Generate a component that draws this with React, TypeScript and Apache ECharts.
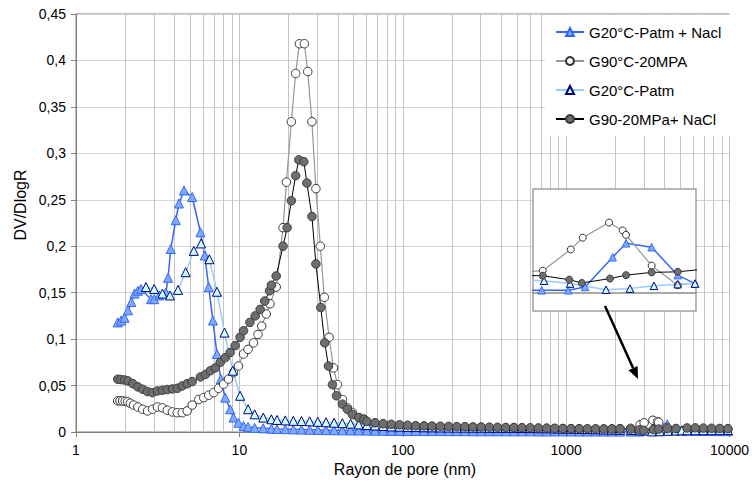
import React, { useEffect, useRef } from 'react';
import * as echarts from 'echarts';

// ---------- data (pore radius in nm, DV/DlogR) ----------
const seriesNames = ['G20°C-Patm + Nacl', 'G90°C-20MPA', 'G20°C-Patm', 'G90-20MPa+ NaCl'];
const xTickLabels = ['1', '10', '100', '1000', '10000'];

// shared log-spaced radii of the long tails
const tailR = [17.0, 19.1, 21.4, 24.0, 26.9, 30.2, 33.9, 38.0, 42.7, 47.9, 53.7, 60.3, 67.6, 75.9, 85.1, 95.5,
  107, 120, 135, 151, 170, 191, 214, 240, 269, 302, 339, 380, 427, 479, 537, 603, 676, 759, 851, 955,
  1072, 1202, 1349, 1514, 1698, 1905, 2138];
const endR = [5500, 6170, 6920, 7760, 8710, 9770];

// G20°C-Patm + Nacl
const s1HeadR = [1.80, 1.89, 1.98, 2.08, 2.18, 2.28, 2.39, 2.50, 2.88, 3.01, 3.23, 3.55, 3.66, 3.80, 4.08, 4.27, 4.58,
  5.14, 5.78, 6.14, 6.49, 6.89, 7.29, 7.70, 8.19, 8.78, 9.20, 9.86, 10.6, 11.3, 12.4, 14.0, 15.7];
const s1HeadV = [0.118, 0.120, 0.123, 0.131, 0.140, 0.149, 0.152, 0.154, 0.143, 0.143, 0.147, 0.150, 0.166, 0.197, 0.228,
  0.246, 0.260, 0.253, 0.215, 0.190, 0.156, 0.120, 0.084, 0.057, 0.037, 0.0245, 0.0155, 0.010, 0.0065, 0.0055, 0.0045,
  0.0040, 0.0035];
const s1TailV = [0.0032, 0.0030, 0.0028, 0.0026, 0.0024, 0.0022, 0.0020, 0.0019, 0.0018, 0.0017, 0.0016, 0.0015, 0.0014,
  0.0013, 0.0012, 0.0012, 0.0011, 0.0011, 0.0010, 0.0010, 0.0010, 0.0009, 0.0009, 0.0009, 0.0008, 0.0008, 0.0008, 0.0008,
  0.0007, 0.0007, 0.0007, 0.0007, 0.0006, 0.0006, 0.0006, 0.0006, 0.0006, 0.0005, 0.0005, 0.0005, 0.0005, 0.0005, 0.0005];
const s1InsetR = [2471, 2802, 3034, 3457, 3683, 4158, 4704, 5105];
const s1InsetV = [0.0005, 0.0005, 0.0011, 0.0064, 0.0089, 0.0082, 0.0032, 0.0017];
const s1EndV = [0.0014, 0.0012, 0.0011, 0.0010, 0.0009, 0.0009];

// G90°C-20MPA
const s2HeadR = [1.80, 1.86, 1.93, 2.00, 2.07, 2.15, 2.25, 2.39, 2.56, 2.74, 2.94, 3.15, 3.38, 3.62, 3.89, 4.17, 4.47,
  4.79, 5.14, 5.64, 6.05, 6.49, 6.96, 7.46, 8.00, 8.58, 9.20, 9.86, 10.6, 11.3, 12.2, 13.0, 13.7, 14.6, 15.4, 16.8,
  18.5, 19.4, 20.8, 22.1, 23.3, 25.0, 26.2, 27.8, 29.4, 31.3, 33.1, 35.4, 37.7, 39.8, 42.7, 45.8, 49.1, 53.9, 57.8];
const s2HeadV = [0.0335, 0.0335, 0.0334, 0.033, 0.0325, 0.031, 0.029, 0.027, 0.0245, 0.0227, 0.0245, 0.027, 0.026,
  0.0234, 0.0216, 0.0208, 0.0208, 0.0227, 0.029, 0.035, 0.037, 0.0396, 0.0424, 0.047, 0.0515, 0.057, 0.064, 0.071,
  0.084, 0.089, 0.096, 0.105, 0.114, 0.127, 0.138, 0.156, 0.22, 0.269, 0.334, 0.386, 0.418, 0.418, 0.388, 0.334,
  0.262, 0.2, 0.145, 0.102, 0.069, 0.051, 0.035, 0.026, 0.021, 0.0155, 0.0137];
const s2TailV = [0.0105, 0.0092, 0.0083, 0.0075, 0.0070, 0.0065, 0.0061, 0.0058, 0.0056, 0.0054, 0.0052, 0.0050,
  0.0049, 0.0047, 0.0046, 0.0045, 0.0043, 0.0042, 0.0041, 0.0040, 0.0038, 0.0037, 0.0036, 0.0035, 0.0033, 0.0032,
  0.0031, 0.0030, 0.0030, 0.0031, 0.0033, 0.0036];
const s2InsetR = [2483, 2835, 3001, 3398, 3625, 3683, 4158, 4704];
const s2InsetV = [0.0040, 0.0078, 0.0099, 0.0126, 0.0112, 0.0104, 0.0049, 0.0014];
const s2EndV = [0.0022, 0.0026, 0.0028, 0.0030, 0.0030, 0.0030];

// G20°C-Patm
const s3HeadR = [2.68, 3.01, 3.38, 3.76, 4.21, 4.69, 5.26, 5.83, 6.55, 7.29, 8.11, 9.11, 10.1, 11.3, 12.4, 14.0, 15.7];
const s3HeadV = [0.156, 0.154, 0.149, 0.147, 0.153, 0.172, 0.195, 0.203, 0.186, 0.151, 0.107, 0.066, 0.039, 0.0245,
  0.019, 0.0155, 0.0137];
const s3TailV = [0.0130, 0.0125, 0.0120, 0.0118, 0.0115, 0.0110, 0.0105, 0.0100, 0.0095, 0.0090, 0.0082, 0.0075,
  0.0070, 0.0065, 0.0060, 0.0057, 0.0055, 0.0053, 0.0051, 0.0050, 0.0049, 0.0048, 0.0047, 0.0047, 0.0046, 0.0046,
  0.0045, 0.0045, 0.0044, 0.0044, 0.0043, 0.0042, 0.0041, 0.0040, 0.0038, 0.0037, 0.0035, 0.0033, 0.0031, 0.0029,
  0.0027, 0.0025, 0.0024];
const s3InsetR = [2498, 2825, 3350, 3752, 4204, 4704, 5105];
const s3InsetV = [0.0022, 0.0017, 0.0006, 0.0008, 0.0013, 0.0016, 0.0017];
const s3EndV = [0.0018, 0.0019, 0.0019, 0.0020, 0.0020, 0.0021];

// G90-20MPa+ NaCl
const s4HeadR = [1.80, 1.88, 1.98, 2.08, 2.23, 2.39, 2.56, 2.74, 2.94, 3.15, 3.38, 3.62, 3.89, 4.17, 4.47, 4.79, 5.14,
  5.78, 6.20, 6.64, 7.12, 7.64, 8.19, 8.78, 9.42, 10.1, 10.6, 11.6, 12.5, 13.4, 14.3, 15.3, 15.7, 16.8, 18.5, 19.6,
  20.8, 22.1, 23.1, 24.8, 25.9, 27.8, 29.4, 31.5, 33.3, 35.1, 37.1, 39.3, 42.7, 45.8, 49.1, 53.9, 57.8];
const s4HeadV = [0.0568, 0.0565, 0.056, 0.055, 0.052, 0.0486, 0.046, 0.0435, 0.0424, 0.0442, 0.045, 0.0457, 0.0464,
  0.047, 0.0496, 0.052, 0.0543, 0.0593, 0.062, 0.066, 0.069, 0.075, 0.08, 0.0856, 0.093, 0.102, 0.109, 0.118, 0.125,
  0.132, 0.141, 0.152, 0.158, 0.168, 0.2, 0.22, 0.249, 0.276, 0.293, 0.291, 0.268, 0.232, 0.181, 0.134, 0.096, 0.071,
  0.051, 0.039, 0.03, 0.0245, 0.019, 0.0155, 0.0137];
const s4TailV = [0.0115, 0.0100, 0.0090, 0.0083, 0.0078, 0.0072, 0.0068, 0.0066, 0.0064, 0.0062, 0.0060, 0.0058,
  0.0057, 0.0055, 0.0054, 0.0052, 0.0050, 0.0049, 0.0048, 0.0046, 0.0045, 0.0043, 0.0042, 0.0040, 0.0038, 0.0037,
  0.0036, 0.0035, 0.0034, 0.0033, 0.0032, 0.0032];
const s4InsetR = [2483, 2815, 2987, 3414, 3683, 4158, 4704];
const s4InsetV = [0.0031, 0.0024, 0.0018, 0.0026, 0.0032, 0.0037, 0.0038];
const s4EndV = [0.0044, 0.0045, 0.0042, 0.0040, 0.0038, 0.0036];

// ---------- build ----------
type Pt = [number, number];
const pairs = (r: number[], v: number[]): Pt[] => r.map((x, i) => [x, v[i]] as Pt);

const seriesData: Pt[][] = [
  [...pairs(s1HeadR, s1HeadV), ...pairs(tailR, s1TailV), ...pairs(s1InsetR, s1InsetV), ...pairs(endR, s1EndV)],
  [...pairs(s2HeadR, s2HeadV), ...pairs(tailR.slice(11), s2TailV), ...pairs(s2InsetR, s2InsetV), ...pairs(endR, s2EndV)],
  [...pairs(s3HeadR, s3HeadV), ...pairs(tailR, s3TailV), ...pairs(s3InsetR, s3InsetV), ...pairs(endR, s3EndV)],
  [...pairs(s4HeadR, s4HeadV), ...pairs(tailR.slice(11), s4TailV), ...pairs(s4InsetR, s4InsetV), ...pairs(endR, s4EndV)],
];

const looks = [
  { symbol: 'triangle', size: 9, line: '#3366FF', lw: 1.5, fill: '#80AAFF', border: '#3366FF' },
  { symbol: 'circle', size: 8.5, line: '#969696', lw: 1.2, fill: '#FFFFFF', border: '#333333' },
  { symbol: 'triangle', size: 9, line: '#99CCFF', lw: 1.5, fill: '#CCFFFF', border: '#000080' },
  { symbol: 'circle', size: 8.5, line: '#000000', lw: 1, fill: '#6E6E6E', border: '#3A3A3A' },
];

const FONT = '"Liberation Sans", Arial, sans-serif';

const minorGrid: number[] = [];
for (let k = 0; k < 4; k++) for (let m = 2; m <= 9; m++) minorGrid.push(m * Math.pow(10, k));

function buildOption() {
  const mainSeries = seriesNames.map((name, i) => ({
    name,
    type: 'line',
    xAxisIndex: 0,
    yAxisIndex: 0,
    data: seriesData[i],
    symbol: looks[i].symbol,
    symbolSize: looks[i].size,
    showSymbol: true,
    lineStyle: { color: looks[i].line, width: looks[i].lw },
    itemStyle: { color: looks[i].fill, borderColor: looks[i].border, borderWidth: 1 },
    z: 2,
    silent: true,
  }));
  const insetSeries = seriesNames.map((name, i) => ({
    name: name + ' (zoom)',
    type: 'line',
    xAxisIndex: 1,
    yAxisIndex: 1,
    data: seriesData[i],
    symbol: looks[i].symbol,
    symbolSize: looks[i].size - 1.5,
    showSymbol: true,
    clip: true,
    lineStyle: { color: looks[i].line, width: looks[i].lw },
    itemStyle: { color: looks[i].fill, borderColor: looks[i].border, borderWidth: 1 },
    z: 12,
    silent: true,
  }));
  const gridSeries = {
    name: 'minor-grid',
    type: 'line',
    xAxisIndex: 0,
    yAxisIndex: 0,
    data: [],
    silent: true,
    z: 1,
    markLine: {
      silent: true,
      z: 1,
      symbol: 'none',
      label: { show: false },
      lineStyle: { color: '#c4c4c4', width: 1, type: 'solid' },
      emphasis: { disabled: true },
      data: minorGrid.map((v) => ({ xAxis: v })),
    },
  };

  const ax = 638, ay = 379; // arrow tip
  const sx = 605, sy = 306;
  const dx = ax - sx, dy = ay - sy, len = Math.hypot(dx, dy);
  const ux = dx / len, uy = dy / len;
  const bx = ax - 12 * ux, by = ay - 12 * uy;
  const px = -uy * 5, py = ux * 5;

  return {
    animation: false,
    backgroundColor: '#ffffff',
    textStyle: { fontFamily: FONT },
    grid: [
      { left: 76, right: 20, top: 14, bottom: 54, show: true, borderColor: '#808080', borderWidth: 1, z: 0 },
      { left: 533, top: 189, width: 163, height: 122, show: true, backgroundColor: '#ffffff', borderColor: '#a0a0a0', borderWidth: 1.5, z: 10 },
    ],
    xAxis: [
      {
        type: 'log', gridIndex: 0, min: 1, max: 10000, logBase: 10,
        axisLine: { onZero: false, lineStyle: { color: '#808080' } },
        axisTick: { show: true, length: 5, lineStyle: { color: '#808080' } },
        axisLabel: {
          fontSize: 14, color: '#000', fontFamily: FONT, margin: 11,
          formatter: (v: number) => xTickLabels[Math.round(Math.log10(v))] ?? String(Math.round(v)),
        },
        splitLine: { show: true, lineStyle: { color: '#c4c4c4', width: 1 } },
      },
      {
        type: 'log', gridIndex: 1, min: 2371, max: 5129, logBase: 10, z: 11,
        axisLine: { onZero: true, lineStyle: { color: '#8c8c8c', width: 1.5 } },
        axisTick: { show: false }, axisLabel: { show: false }, splitLine: { show: false },
      },
    ],
    yAxis: [
      {
        type: 'value', gridIndex: 0, min: 0, max: 0.45, interval: 0.05,
        axisLine: { show: true, lineStyle: { color: '#808080' } },
        axisTick: { show: true, length: 5, lineStyle: { color: '#808080' } },
        axisLabel: {
          fontSize: 14, color: '#000', fontFamily: FONT, margin: 10,
          formatter: (v: number) => (v === 0 ? '0' : String(parseFloat(v.toFixed(2))).replace('.', ',')),
        },
        splitLine: { show: true, lineStyle: { color: '#d4d4d4', width: 1 } },
      },
      {
        type: 'value', gridIndex: 1, min: -0.0032, max: 0.0186, z: 11,
        axisLine: { show: false }, axisTick: { show: false }, axisLabel: { show: false }, splitLine: { show: false },
      },
    ],
    legend: {
      data: seriesNames,
      orient: 'vertical',
      left: 545,
      top: 15,
      padding: [9, 10, 9, 10],
      itemWidth: 28,
      itemHeight: 10,
      itemGap: 13,
      backgroundColor: '#ffffff',
      selectedMode: false,
      textStyle: { fontSize: 15, lineHeight: 16, color: '#000', fontFamily: FONT },
      z: 20,
    },
    graphic: [
      {
        type: 'text', x: 20, y: 205, rotation: Math.PI / 2, z: 100,
        style: { text: 'DV/DlogR', fontSize: 16, fontFamily: FONT, fill: '#000', align: 'center', verticalAlign: 'middle' },
      },
      {
        type: 'text', x: 405, y: 469, z: 100,
        style: { text: 'Rayon de pore (nm)', fontSize: 16, fontFamily: FONT, fill: '#000', align: 'center', verticalAlign: 'middle' },
      },
      {
        type: 'line', z: 100,
        shape: { x1: sx, y1: sy, x2: bx, y2: by },
        style: { stroke: '#000', lineWidth: 2.5 },
      },
      {
        type: 'polygon', z: 100,
        shape: { points: [[ax, ay], [bx + px, by + py], [bx - px, by - py]] },
        style: { fill: '#000' },
      },
    ],
    series: [gridSeries, ...mainSeries, ...insetSeries],
  };
}

export default function App() {
  const ref = useRef<HTMLDivElement>(null);
  useEffect(() => {
    document.body.style.margin = '0';
    const chart = echarts.init(ref.current as HTMLDivElement, null, { renderer: 'svg' });
    chart.setOption(buildOption() as any);
    return () => chart.dispose();
  }, []);
  return <div ref={ref} style={{ width: 752, height: 486 }} />;
}
